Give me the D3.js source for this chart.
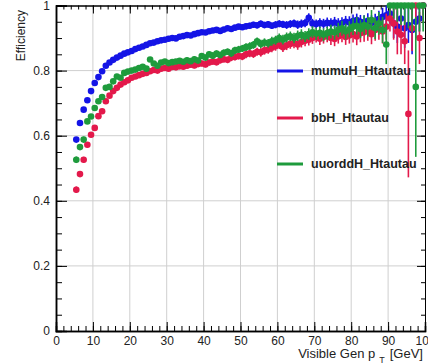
<!DOCTYPE html>
<html><head><meta charset="utf-8">
<script src="https://cdn.jsdelivr.net/npm/d3@7"></script>
<style>
html,body{margin:0;padding:0;background:#fff;}
svg{display:block;font-family:"Liberation Sans",Arial,Helvetica,sans-serif;}
</style></head>
<body><svg id="c" width="428" height="364"></svg>
<script>
// bin centres (1 GeV bins)
const ptBins = [5.5,6.5,7.5,8.5,9.5,10.5,11.5,12.5,13.5,14.5,15.5,16.5,17.5,18.5,19.5,20.5,21.5,22.5,23.5,24.5,
25.5,26.5,27.5,28.5,29.5,30.5,31.5,32.5,33.5,34.5,35.5,36.5,37.5,38.5,39.5,40.5,41.5,42.5,43.5,44.5,
45.5,46.5,47.5,48.5,49.5,50.5,51.5,52.5,53.5,54.5,55.5,56.5,57.5,58.5,59.5,60.5,61.5,62.5,63.5,64.5,
65.5,66.5,67.5,68.5,69.5,70.5,71.5,72.5,73.5,74.5,75.5,76.5,77.5,78.5,79.5,80.5,81.5,82.5,83.5,84.5,
85.5,86.5,87.5,88.5,89.5,90.5,91.5,92.5,93.5,94.5,95.5,96.5,97.5,98.5,99.5];

const mumuEff = [0.588,0.639,0.680,0.709,0.737,0.762,0.780,0.798,0.815,0.825,0.833,0.840,0.846,0.852,0.856,0.860,0.866,0.870,0.874,0.879,
0.884,0.886,0.890,0.893,0.895,0.898,0.900,0.899,0.904,0.906,0.909,0.908,0.912,0.915,0.918,0.917,0.921,0.923,0.925,0.922,
0.926,0.930,0.928,0.932,0.935,0.933,0.936,0.938,0.941,0.939,0.944,0.940,0.942,0.938,0.941,0.944,0.942,0.940,0.943,0.945,
0.941,0.944,0.946,0.962,0.945,0.943,0.946,0.944,0.947,0.945,0.948,0.944,0.946,0.950,0.948,0.952,0.955,0.950,0.948,0.953,
0.946,0.950,0.958,0.965,0.970,0.975,0.945,0.935,0.960,0.930,0.940,0.925,0.950,0.960,1.000];
const mumuErr = [0.008,0.007,0.007,0.006,0.006,0.006,0.005,0.005,0.005,0.005,0.005,0.005,0.005,0.005,0.005,0.005,0.005,0.005,0.005,0.005,
0.005,0.005,0.005,0.005,0.005,0.005,0.005,0.005,0.006,0.006,0.006,0.006,0.006,0.006,0.006,0.007,0.007,0.007,0.007,0.007,
0.007,0.008,0.008,0.008,0.008,0.008,0.009,0.009,0.009,0.009,0.010,0.010,0.010,0.010,0.011,0.011,0.011,0.012,0.012,0.012,
0.013,0.013,0.013,0.014,0.014,0.014,0.015,0.015,0.016,0.016,0.017,0.017,0.018,0.018,0.019,0.020,0.020,0.021,0.022,0.023,
0.024,0.025,0.026,0.028,0.030,0.030,0.045,0.050,0.040,0.060,0.055,0.075,0.050,0.040,0.030];

const bbEff = [0.434,0.482,0.526,0.572,0.603,0.624,0.660,0.675,0.706,0.723,0.737,0.747,0.757,0.764,0.770,0.778,0.782,0.786,0.790,0.793,
0.798,0.802,0.800,0.806,0.808,0.806,0.811,0.810,0.813,0.812,0.815,0.818,0.816,0.820,0.822,0.819,0.825,0.828,0.826,0.832,
0.835,0.833,0.840,0.842,0.845,0.843,0.850,0.853,0.851,0.858,0.856,0.862,0.865,0.870,0.875,0.880,0.872,0.878,0.882,0.885,
0.880,0.888,0.892,0.895,0.900,0.905,0.898,0.903,0.907,0.900,0.897,0.905,0.910,0.903,0.908,0.912,0.905,0.915,0.918,0.922,
0.912,0.925,0.930,0.920,0.935,0.960,0.945,0.920,0.910,0.890,0.667,0.930,1.000,0.900,1.000];
const bbErr = [0.010,0.009,0.009,0.008,0.008,0.008,0.007,0.007,0.007,0.007,0.007,0.007,0.007,0.007,0.007,0.007,0.007,0.007,0.007,0.007,
0.007,0.007,0.007,0.007,0.007,0.008,0.008,0.008,0.008,0.008,0.008,0.008,0.009,0.009,0.009,0.009,0.009,0.010,0.010,0.010,
0.010,0.010,0.011,0.011,0.011,0.011,0.012,0.012,0.012,0.012,0.013,0.013,0.013,0.014,0.014,0.014,0.015,0.015,0.015,0.016,
0.016,0.017,0.017,0.018,0.018,0.019,0.019,0.020,0.020,0.021,0.022,0.022,0.023,0.024,0.025,0.026,0.027,0.028,0.029,0.030,
0.031,0.033,0.035,0.037,0.040,0.040,0.050,0.070,0.060,0.070,0.195,0.070,0.050,0.080,0.050];

const uuddEff = [0.526,0.565,0.588,0.644,0.659,0.685,0.706,0.719,0.747,0.750,0.767,0.782,0.778,0.793,0.797,0.800,0.803,0.808,0.812,0.806,
0.834,0.822,0.815,0.825,0.828,0.823,0.826,0.828,0.830,0.827,0.832,0.829,0.835,0.831,0.845,0.840,0.850,0.846,0.852,0.848,
0.855,0.858,0.853,0.862,0.865,0.868,0.872,0.875,0.879,0.890,0.882,0.886,0.884,0.890,0.893,0.900,0.895,0.902,0.905,0.900,
0.907,0.910,0.905,0.912,0.918,0.913,0.916,0.910,0.915,0.920,0.917,0.925,0.930,0.920,0.927,0.935,0.938,0.928,0.940,0.935,
0.955,0.930,0.945,0.925,0.880,1.000,1.000,1.000,1.000,1.000,1.000,1.000,0.750,1.000,1.000];
const uuddErr = [0.010,0.009,0.009,0.008,0.008,0.008,0.007,0.007,0.007,0.007,0.007,0.007,0.007,0.007,0.007,0.007,0.007,0.007,0.007,0.007,
0.007,0.007,0.007,0.007,0.007,0.008,0.008,0.008,0.008,0.008,0.008,0.008,0.009,0.009,0.009,0.009,0.009,0.010,0.010,0.010,
0.010,0.010,0.011,0.011,0.011,0.011,0.012,0.012,0.012,0.012,0.013,0.013,0.013,0.014,0.014,0.014,0.015,0.015,0.015,0.016,
0.016,0.017,0.017,0.018,0.018,0.019,0.019,0.020,0.020,0.021,0.022,0.022,0.023,0.024,0.025,0.026,0.027,0.028,0.029,0.030,
0.031,0.033,0.035,0.040,0.060,0.030,0.040,0.050,0.060,0.060,0.070,0.080,0.215,0.080,0.080];

const seriesNames = ["mumuH_Htautau","bbH_Htautau","uuorddH_Htautau"];
const seriesColors = ["#1414e6","#e3194b","#1e9b3c"];
const seriesEff = [mumuEff, bbEff, uuddEff];
const seriesErr = [mumuErr, bbErr, uuddErr];

const xMajor = [0,10,20,30,40,50,60,70,80,90,100];
const xMinor = d3.range(0,101,2);
const yMajor = [0,0.2,0.4,0.6,0.8,1];
const yMinor = d3.range(0,1.0001,0.05);
const yTitle = "Efficiency";
const xTitle = ["Visible Gen p","T","[GeV]"];

const L=56,R=425,T=5.5,B=331;
const x = d3.scaleLinear().domain([0,100]).range([L,R]);
const y = d3.scaleLinear().domain([0,1]).range([B,T]);
const svg = d3.select("#c");

// grid
const grid = svg.append("g");
grid.selectAll("line.gx").data(xMajor.filter(v=>v>0&&v<100)).join("line")
  .attr("x1",d=>x(d)).attr("x2",d=>x(d)).attr("y1",T).attr("y2",B)
  .attr("stroke","#cfcfcf").attr("stroke-width",1);
grid.selectAll("line.gy").data(yMajor.filter(v=>v>0&&v<1)).join("line")
  .attr("y1",d=>y(d)).attr("y2",d=>y(d)).attr("x1",L).attr("x2",R)
  .attr("stroke","#cfcfcf").attr("stroke-width",1);

function styleAxis(g){ g.select(".domain").attr("stroke","#000").attr("stroke-width",1.5);
  g.selectAll(".tick line").attr("stroke","#000").attr("stroke-width",1);
  g.selectAll("text").attr("font-size",12).attr("fill","#222").attr("font-family","Liberation Sans, Arial, sans-serif"); }

// bottom
svg.append("g").attr("transform",`translate(0,${B})`)
  .call(d3.axisBottom(x).tickValues(xMinor).tickSize(-5).tickFormat("")).call(styleAxis);
svg.append("g").attr("transform",`translate(0,${B})`)
  .call(d3.axisBottom(x).tickValues(xMajor).tickSize(-9).tickPadding(5).tickFormat(d3.format("d"))).call(styleAxis)
  .selectAll("text").attr("dy","0.71em");
// top
svg.append("g").attr("transform",`translate(0,${T})`)
  .call(d3.axisTop(x).tickValues(xMinor).tickSize(-4).tickFormat("")).call(styleAxis)
  .select(".domain").attr("stroke-width",1);
svg.append("g").attr("transform",`translate(0,${T})`)
  .call(d3.axisTop(x).tickValues(xMajor).tickSize(-8).tickFormat("")).call(styleAxis)
  .select(".domain").attr("stroke-width",1);
// left
svg.append("g").attr("transform",`translate(${L},0)`)
  .call(d3.axisLeft(y).tickValues(yMinor).tickSize(-6).tickFormat("")).call(styleAxis);
svg.append("g").attr("transform",`translate(${L},0)`)
  .call(d3.axisLeft(y).tickValues(yMajor).tickSize(-11).tickPadding(6).tickFormat(d3.format("~g"))).call(styleAxis);
// right
svg.append("g").attr("transform",`translate(${R},0)`)
  .call(d3.axisRight(y).tickValues(yMinor).tickSize(-4).tickFormat("")).call(styleAxis)
  .select(".domain").attr("stroke-width",1);
svg.append("g").attr("transform",`translate(${R},0)`)
  .call(d3.axisRight(y).tickValues(yMajor).tickSize(-8).tickFormat("")).call(styleAxis)
  .select(".domain").attr("stroke-width",1);

// titles
svg.append("text").attr("transform",`translate(25,10) rotate(-90)`)
  .attr("text-anchor","end").attr("font-size",12).attr("fill","#222").text(yTitle);
const xt = svg.append("text").attr("x",423).attr("y",357.5).attr("text-anchor","end")
  .attr("font-size",13).attr("fill","#222");
xt.append("tspan").text(xTitle[0]);
xt.append("tspan").attr("dx",4).attr("dy",5).attr("font-size",9).text(xTitle[1]);
xt.append("tspan").attr("dx",5).attr("dy",-5).text(xTitle[2]);

// series
const clamp = v=>Math.max(0,Math.min(1,v));
seriesEff.forEach((eff,si)=>{
  const g = svg.append("g");
  const pts = ptBins.map((p,i)=>({p, v:eff[i], e:seriesErr[si][i]}));
  g.selectAll("line").data(pts).join("line")
    .attr("x1",d=>x(d.p)).attr("x2",d=>x(d.p))
    .attr("y1",d=>y(clamp(d.v-d.e))).attr("y2",d=>y(clamp(d.v+d.e)))
    .attr("stroke",seriesColors[si]).attr("stroke-width",1.6);
  g.selectAll("circle").data(pts).join("circle")
    .attr("cx",d=>x(d.p)).attr("cy",d=>y(d.v)).attr("r",3.3)
    .attr("fill",seriesColors[si]);
});

// legend
const legY = [71,118,164];
const leg = svg.append("g");
seriesNames.forEach((n,i)=>{
  leg.append("line").attr("x1",277).attr("x2",303).attr("y1",legY[i]).attr("y2",legY[i])
    .attr("stroke",seriesColors[i]).attr("stroke-width",3);
  leg.append("text").attr("x",311).attr("y",legY[i]).attr("dy","0.35em")
    .attr("font-size",12.5).attr("font-weight","bold").attr("fill","#222").text(n);
});
</script></body></html>
